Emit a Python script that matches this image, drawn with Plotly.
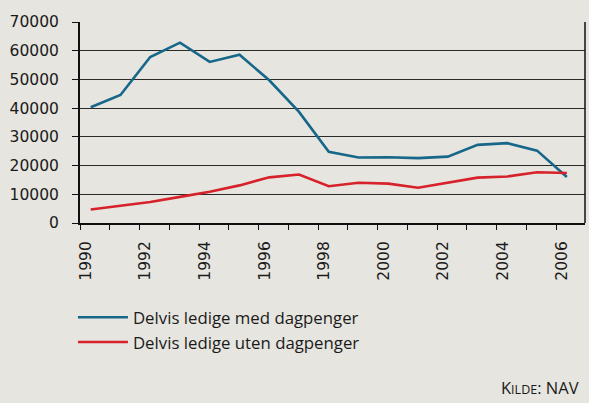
import plotly.graph_objects as go

years = list(range(1990, 2007))
med_dagpenger = [40300, 44600, 57800, 62800, 56100, 58600, 49700, 38700, 24800,
                 22800, 22900, 22600, 23100, 27200, 27800, 25200, 16000]
uten_dagpenger = [4700, 6100, 7300, 9100, 10900, 13100, 15900, 16900, 12800,
                  14000, 13700, 12300, 14000, 15800, 16200, 17700, 17400]
series_names = ["Delvis ledige med dagpenger", "Delvis ledige uten dagpenger"]
y_ticks = [0, 10000, 20000, 30000, 40000, 50000, 60000, 70000]
x_ticks = list(range(1990, 2007, 2))

BG = "#E6E5DF"
W, H = 589, 403
L, R, T, B = 80, 4, 22, 180
LABEL_SHIFT = 0.16  # tick labels sit slightly left of the data points, as in the source

fig = go.Figure()
fig.add_trace(go.Scatter(x=years, y=med_dagpenger, mode="lines", name=series_names[0],
                         line=dict(color="#17678A", width=2.6)))
fig.add_trace(go.Scatter(x=years, y=uten_dagpenger, mode="lines", name=series_names[1],
                         line=dict(color="#D7212B", width=2.6)))

axis_font = dict(family="DejaVu Sans", size=15.5, color="#1a1a1a")
fig.update_layout(
    width=W, height=H,
    margin=dict(l=L, r=R, t=T, b=B),
    paper_bgcolor=BG, plot_bgcolor=BG,
    showlegend=True,
    legend=dict(x=-0.014, y=-0.382, xanchor="left", yanchor="top",
                bgcolor="rgba(0,0,0,0)", itemwidth=50, tracegroupgap=0,
                font=dict(family="Open Sans", size=16.8, color="#1a1a1a")),
    xaxis=dict(range=[1989.64, 2006.61], tickvals=[v - LABEL_SHIFT for v in x_ticks],
               ticktext=[str(v) for v in x_ticks],
               tickangle=-90, ticks="", showgrid=False, zeroline=False,
               showline=True, linecolor="#111", linewidth=2,
               tickfont=axis_font, ticklabelstandoff=10,
               minor=dict(tick0=1989.64, dtick=1, ticks="outside", ticklen=5,
                          tickcolor="#111", tickwidth=1.2, showgrid=False)),
    yaxis=dict(range=[0, 70000], tickvals=y_ticks, ticktext=[str(v) for v in y_ticks],
               ticks="outside", ticklen=6,
               tickcolor="#111", tickwidth=1.2, showgrid=True, gridcolor="#2a2a2a",
               gridwidth=1, zeroline=False, showline=True, linecolor="#111", linewidth=2,
               mirror=False, tickfont=axis_font, ticklabelstandoff=10),
    shapes=[dict(type="line", xref="paper", yref="paper", x0=1, x1=1, y0=0, y1=1,
                 line=dict(color="#111", width=1.5))],
    annotations=[dict(xref="paper", yref="paper", x=0.992, y=-0.82, xanchor="right",
                      yanchor="middle", showarrow=False,
                      text="K<span style='font-size:12.5px'>ILDE</span>: NAV",
                      font=dict(family="Open Sans", size=16.5, color="#1a1a1a"))],
)

fig.write_html("out.html", config={"displayModeBar": False},
               post_script="document.body.style.margin='0';document.body.style.overflow='hidden';")
